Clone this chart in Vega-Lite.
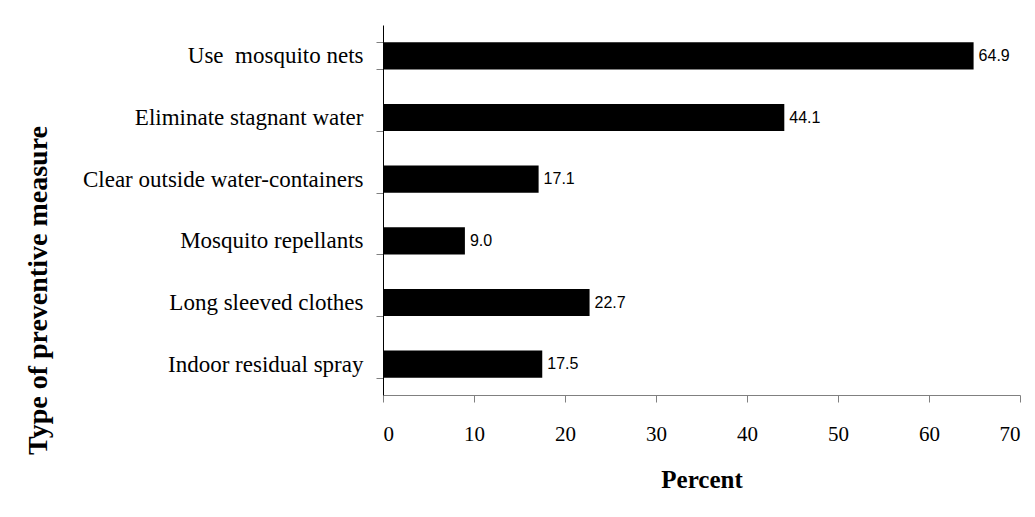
{
  "$schema": "https://vega.github.io/schema/vega-lite/v6.json",
  "width": 637,
  "height": 370,
  "autosize": "none",
  "padding": {"left": 383, "top": 25, "right": 15, "bottom": 122},
  "background": "white",
  "data": {"values": [
    {"measure": "Use \u00a0mosquito nets", "percent": 64.9},
    {"measure": "Eliminate stagnant water", "percent": 44.1},
    {"measure": "Clear outside water-containers", "percent": 17.1},
    {"measure": "Mosquito repellants", "percent": 9.0},
    {"measure": "Long sleeved clothes", "percent": 22.7},
    {"measure": "Indoor residual spray", "percent": 17.5}
  ]},
  "encoding": {
    "y": {
      "field": "measure", "type": "nominal", "sort": null,
      "scale": {"paddingInner": 0.56, "paddingOuter": 0.28},
      "axis": {
        "title": "Type of preventive measure",
        "titleFont": "Liberation Serif", "titleFontSize": 28, "titleFontWeight": "bold", "titleColor": "black",
        "titleX": -331, "titleY": 265,
        "labelFont": "Liberation Serif", "labelFontSize": 23, "labelColor": "black", "labelPadding": 13,
        "tickBand": "extent", "tickSize": 7, "tickColor": "#808080", "domainColor": "black",
        "labelLimit": 400
      }
    },
    "x": {
      "field": "percent", "type": "quantitative",
      "scale": {"domain": [0, 70], "nice": false},
      "axis": {
        "title": "Percent", "values": [0, 10, 20, 30, 40, 50, 60, 70],
        "titleFont": "Liberation Serif", "titleFontSize": 25, "titleFontWeight": "bold", "titleColor": "black", "titlePadding": 23,
        "labelFont": "Liberation Serif", "labelFontSize": 21, "labelColor": "black", "labelPadding": 21,
        "tickSize": 7, "tickColor": "#808080", "domainColor": "#808080", "grid": false
      }
    }
  },
  "layer": [
    {"mark": {"type": "bar", "color": "black"}},
    {"mark": {"type": "text", "align": "left", "dx": 5, "font": "Liberation Sans", "fontSize": 16, "color": "black"},
     "encoding": {"text": {"field": "percent", "type": "quantitative", "format": ".1f"}}}
  ],
  "config": {"view": {"stroke": null}, "axis": {"domainWidth": 1, "tickWidth": 1}}
}
